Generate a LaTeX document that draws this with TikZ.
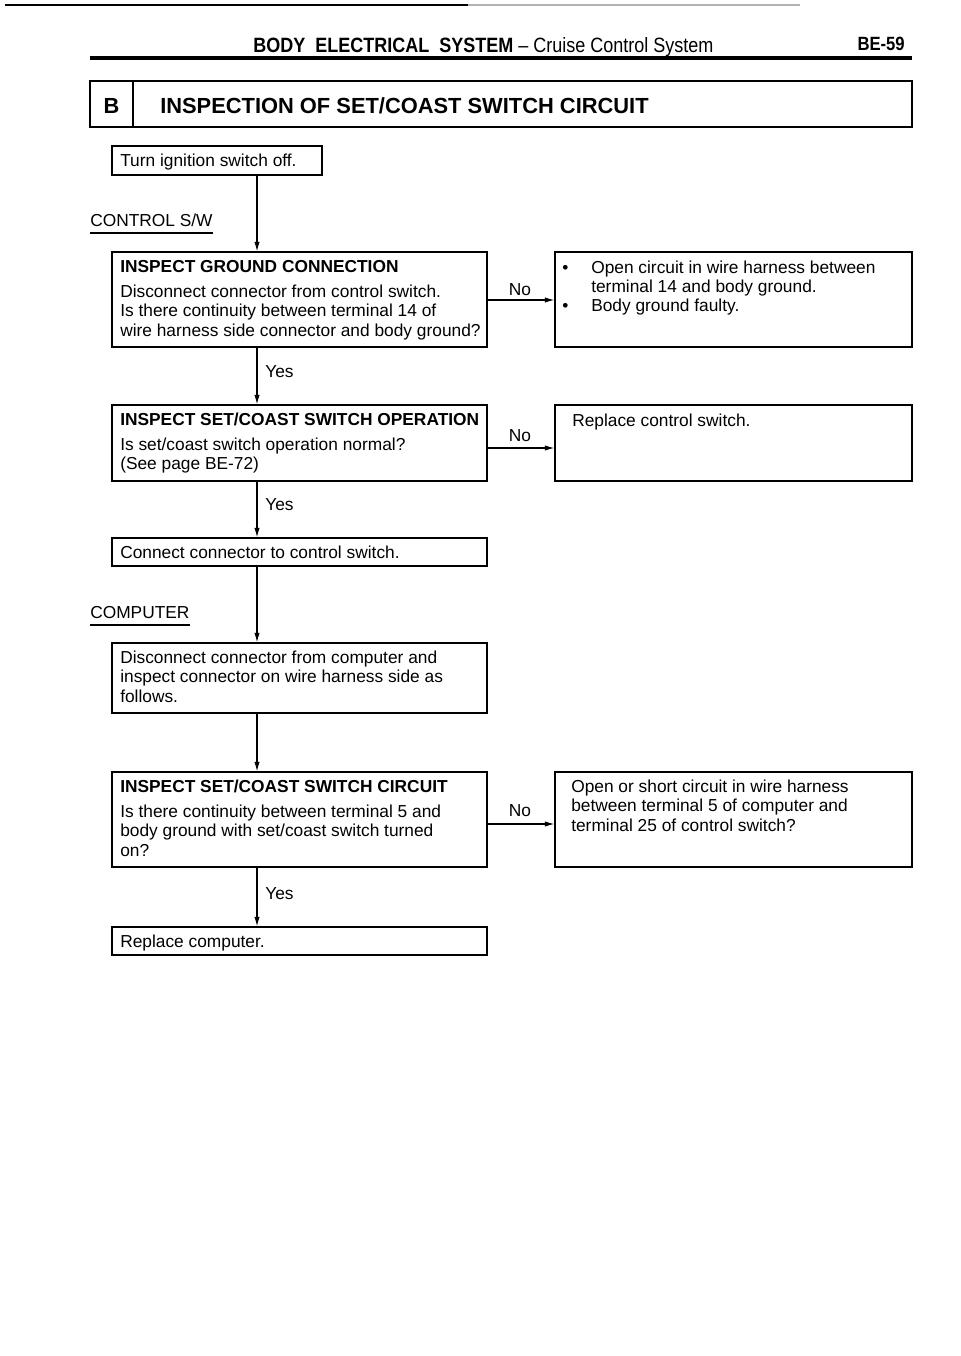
\documentclass[tikz,border=0pt]{standalone}
\usepackage{fontspec}
\setmainfont{Liberation Sans}
\usetikzlibrary{arrows.meta,fit}
\begin{document}
\begin{tikzpicture}[x=0.75pt,y=-0.75pt,
  frame/.style={draw, line width=1.1pt, inner sep=0pt},
  txt/.style={inner sep=0pt, anchor=north west, align=left, font=\fontsize{13}{14.6}\selectfont},
  hd/.style={txt, font=\fontsize{13}{14.6}\selectfont\bfseries},
  lab/.style={inner sep=0pt, font=\fontsize{13}{14.6}\selectfont},
  arr/.style={line width=0.8pt, -{Latex[length=7pt,width=4pt]}},
]
\fill[white] (0,0) rectangle (960,1356);
\useasboundingbox (0,0) rectangle (960,1356);

% page rules
\draw[line width=1.5pt] (5,5) -- (468,5);
\draw[line width=0.8pt, black!30] (468,5) -- (800,5);
\node[anchor=base west, inner sep=0pt, font=\fontsize{13.5}{16}\selectfont] (ttl) at (253,52)
  {\scalebox{1}[1.15]{\textbf{BODY\ \ ELECTRICAL\ \ SYSTEM} – Cruise Control System}};
\node[anchor=base east, inner sep=0pt, font=\fontsize{12.5}{15}\selectfont\bfseries] (pg) at (905,50) {\scalebox{1}[1.15]{BE-59}};
\draw[line width=2.4pt] (90,58) -- (912,58);

% section heading
\node[frame, fit={(90,81)(912,127)}] (hb) {};
\draw[line width=1.1pt] (133,81) -- (133,127);
\node[anchor=base, inner sep=0pt, font=\fontsize{16.4}{19}\selectfont\bfseries] (hbl) at (111.5,113) {B};
\node[anchor=base west, inner sep=0pt, font=\fontsize{16.4}{19}\selectfont\bfseries] (hbt) at (160,113)
  {INSPECTION OF SET/COAST SWITCH CIRCUIT};

% boxes
\node[frame, fit={(112,146)(322,175)}] (t0) {};
\node[frame, fit={(112,252)(487,347)}] (b1) {};
\node[frame, fit={(555,252)(912,347)}] (r1) {};
\node[frame, fit={(112,405)(487,481)}] (b2) {};
\node[frame, fit={(555,405)(912,481)}] (r2) {};
\node[frame, fit={(112,538)(487,566)}] (b3) {};
\node[frame, fit={(112,643)(487,713)}] (b4) {};
\node[frame, fit={(112,772)(487,867)}] (b5) {};
\node[frame, fit={(555,772)(912,867)}] (r3) {};
\node[frame, fit={(112,927)(487,955)}] (b6) {};

% texts
\node[txt] (t0t) at (120,152.4) {\strut Turn ignition switch off.};
\node[hd] (b1h) at (120,258.4) {\strut INSPECT GROUND CONNECTION};
\node[txt] (b1t) at (120,283.4) {\strut Disconnect connector from control switch.\\Is there continuity between terminal 14 of\\wire harness side connector and body ground?};
\node[txt] (r1a) at (562,259.4) {\strut •};
\node[txt] (r1at) at (591,259.4) {\strut Open circuit in wire harness between\\terminal 14 and body ground.};
\node[txt] (r1b) at (562,297.4) {\strut •};
\node[txt] (r1bt) at (591,297.4) {\strut Body ground faulty.};
\node[hd] (b2h) at (120,411.4) {\strut INSPECT SET/COAST SWITCH OPERATION};
\node[txt] (b2t) at (120,436.4) {\strut Is set/coast switch operation normal?\\(See page BE-72)};
\node[txt] (r2t) at (572,412.4) {\strut Replace control switch.};
\node[txt] (b3t) at (120,544.4) {\strut Connect connector to control switch.};
\node[txt] (b4t) at (120,649.4) {\strut Disconnect connector from computer and\\inspect connector on wire harness side as\\follows.};
\node[hd] (b5h) at (120,778.4) {\strut INSPECT SET/COAST SWITCH CIRCUIT};
\node[txt] (b5t) at (120,803.4) {\strut Is there continuity between terminal 5 and\\body ground with set/coast switch turned\\on?};
\node[txt] (r3t) at (571,778.4) {\strut Open or short circuit in wire harness\\between terminal 5 of computer and\\terminal 25 of control switch?};
\node[txt] (b6t) at (120,933.4) {\strut Replace computer.};

% side labels
\node[lab, anchor=base west] (ctl) at (90,226) {CONTROL S/W};
\draw[line width=0.8pt] ([yshift=-5.25pt]ctl.base west) -- ([yshift=-5.25pt]ctl.base east);
\node[lab, anchor=base west] (cmp) at (90,618) {COMPUTER};
\draw[line width=0.8pt] ([yshift=-5.25pt]cmp.base west) -- ([yshift=-5.25pt]cmp.base east);

% connectors
\coordinate (xl) at (257,0);
\draw[arr] (t0.south -| xl) -- (b1.north -| xl);
\draw[arr] (b1.south -| xl) -- (b2.north -| xl);
\draw[arr] (b2.south -| xl) -- (b3.north -| xl);
\draw[arr] (b3.south -| xl) -- (b4.north -| xl);
\draw[arr] (b4.south -| xl) -- (b5.north -| xl);
\draw[arr] (b5.south -| xl) -- (b6.north -| xl);

\coordinate (n1) at (0,300);
\coordinate (n2) at (0,448);
\coordinate (n3) at (0,824);
\draw[arr] (b1.east |- n1) -- (r1.west |- n1);
\draw[arr] (b2.east |- n2) -- (r2.west |- n2);
\draw[arr] (b5.east |- n3) -- (r3.west |- n3);

\node[lab, anchor=base] (no1) at (520,295) {No};
\node[lab, anchor=base] (no2) at (520,441) {No};
\node[lab, anchor=base] (no3) at (520,816) {No};
\node[lab, anchor=base west] (y1) at (265,377) {Yes};
\node[lab, anchor=base west] (y2) at (265,510) {Yes};
\node[lab, anchor=base west] (y3) at (265,899) {Yes};
\end{tikzpicture}
\end{document}
